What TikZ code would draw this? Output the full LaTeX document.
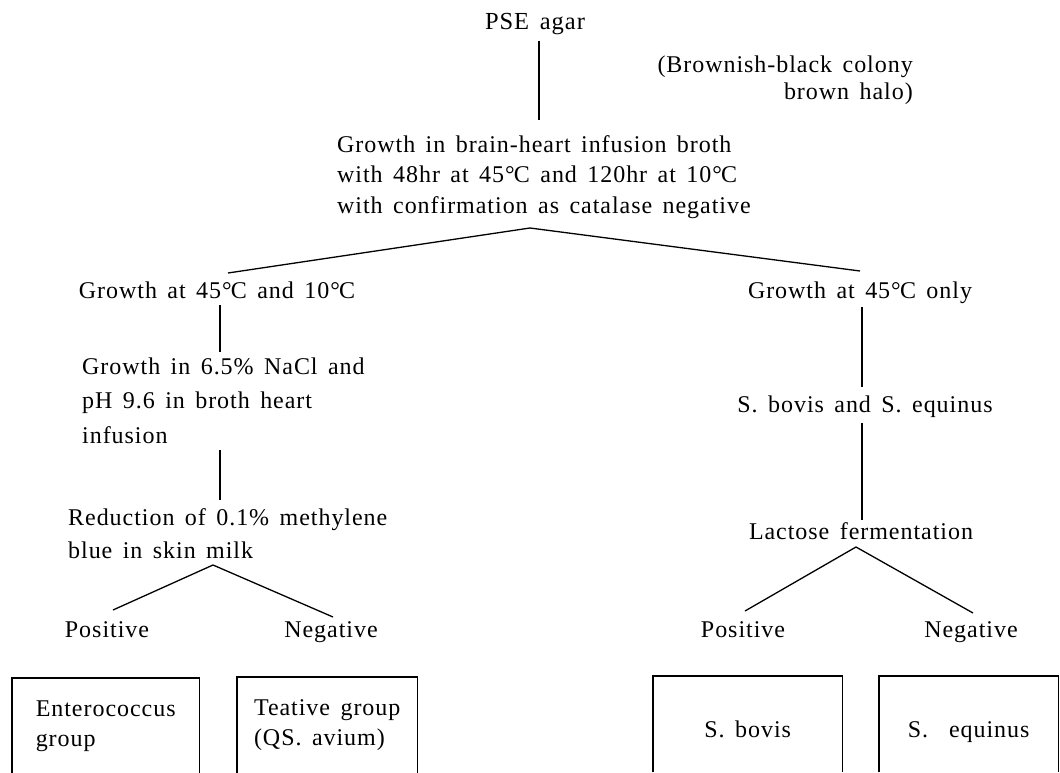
\documentclass[tikz,border=0pt]{standalone}
\usepackage{fontspec}
\setmainfont[LetterSpace=4,WordSpace=1.5]{Liberation Serif}
\newcommand\dC{°\kern-0.8ptC}
\begin{document}
\begin{tikzpicture}[x=1pt,y=-1pt,
  txt/.style={inner sep=0pt,font=\fontsize{24}{31}\selectfont},
  ln/.style={line width=1.3pt},
  boxn/.style={draw=none,inner sep=0pt,anchor=north west,minimum height=96pt,
    align=left,font=\fontsize{24}{30}\selectfont},
  boxline/.style={line width=1.6pt}]
\useasboundingbox (0,0) rectangle (1060,773);
\fill[white] (0,0) rectangle (1060,773);

% top (multi-line nodes: base anchor = baseline of the last line)
\node[txt,anchor=base,font=\fontsize{24.5}{31}\selectfont] (pse) at (535,30) {PSE agar};
\node[txt,anchor=base east,align=right,font=\fontsize{24}{27}\selectfont] (halo) at (913,100)
  {(Brownish-black colony\\brown halo)};
\node[txt,anchor=base west,align=left,font=\fontsize{24}{30.5}\selectfont] (bhi) at (337,213)
  {Growth in brain-heart infusion broth\\with 48hr at 45\dC{} and 120hr at 10\dC\\with confirmation as catalase negative};
\coordinate (pseB) at (539,41);
\coordinate (bhiT) at (539,120);
\coordinate (split) at (530,228);
\coordinate (splitL) at (228,273);
\coordinate (splitR) at (860,271);
\draw[ln] (pseB) -- (bhiT);
\draw[ln] (splitL) -- (split) -- (splitR);

% left column
\node[txt,anchor=base] (g1) at (217,298) {Growth at 45\dC{} and 10\dC};
\node[txt,anchor=base west,align=left,font=\fontsize{24}{34.5}\selectfont] (nacl) at (82,443)
  {Growth in 6.5\% NaCl and\\pH 9.6 in broth heart\\infusion};
\node[txt,anchor=base west,align=left,font=\fontsize{24}{33}\selectfont] (mb) at (68,558)
  {Reduction of 0.1\% methylene\\blue in skin milk};
\node[txt,anchor=base] (pos1) at (107,637) {Positive};
\node[txt,anchor=base] (neg1) at (331,637) {Negative};
\coordinate (g1B) at (220,305);
\coordinate (naclT) at (220,352);
\coordinate (naclB) at (220,450);
\coordinate (mbT) at (220,500);
\coordinate (mbS) at (213,565);
\coordinate (pos1T) at (113,610);
\coordinate (neg1T) at (333,617);
\draw[ln] (g1B) -- (naclT);
\draw[ln] (naclB) -- (mbT);
\draw[ln] (pos1T) -- (mbS) -- (neg1T);

% right column
\node[txt,anchor=base] (g2) at (860,298) {Growth at 45\dC{} only};
\node[txt,anchor=base] (sbe) at (865,412) {S. bovis and S. equinus};
\node[txt,anchor=base] (lac) at (861,539) {Lactose fermentation};
\node[txt,anchor=base] (pos2) at (743,637) {Positive};
\node[txt,anchor=base] (neg2) at (971,637) {Negative};
\coordinate (g2B) at (862,307);
\coordinate (sbeT) at (862,387);
\coordinate (sbeB) at (862,423);
\coordinate (lacT) at (862,520);
\coordinate (lacS) at (856,547);
\coordinate (pos2T) at (745,611);
\coordinate (neg2T) at (973,613);
\draw[ln] (g2B) -- (sbeT);
\draw[ln] (sbeB) -- (lacT);
\draw[ln] (pos2T) -- (lacS) -- (neg2T);

% result boxes (open at the bottom edge of the picture)
\node[boxn,minimum width=187pt] (b1) at (12,678) {Enterococcus\\group};
\node[boxn,minimum width=180pt] (b2) at (237,677) {Teative group\\(QS. avium)};
\node[boxn,minimum width=189pt,align=center] (b3) at (653,676) {\raisebox{-13pt}[0pt][0pt]{S. bovis}};
\node[boxn,minimum width=179pt,align=center] (b4) at (879,676) {\raisebox{-13pt}[0pt][0pt]{S.\ \ equinus}};
\foreach \b in {b1,b2,b3,b4}
  \draw[boxline] (\b.south west) -- (\b.north west) -- (\b.north east) -- (\b.south east);
\end{tikzpicture}
\end{document}
